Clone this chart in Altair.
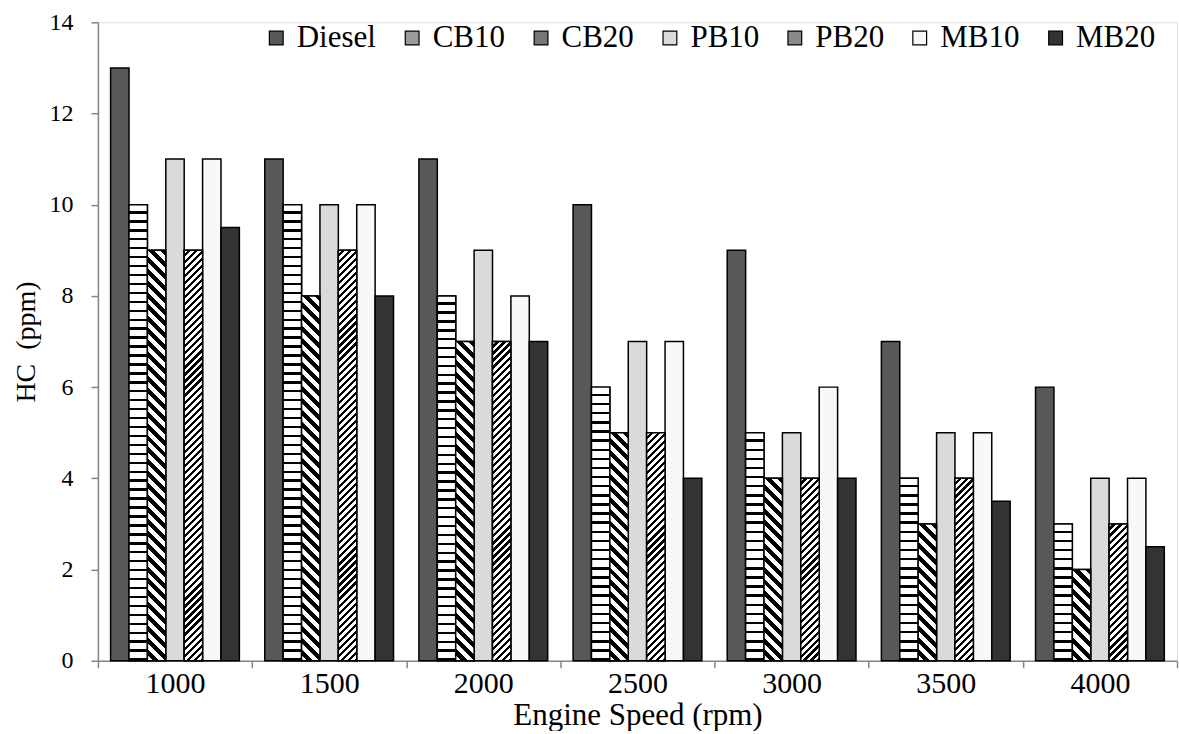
import math
import altair as alt
import pandas as pd

speeds = ["1000", "1500", "2000", "2500", "3000", "3500", "4000"]
fuels = ["Diesel", "CB10", "CB20", "PB10", "PB20", "MB10", "MB20"]
diesel = [13, 11, 11, 10, 9, 7, 6]
cb10 = [10, 10, 8, 6, 5, 4, 3]
cb20 = [9, 8, 7, 5, 4, 3, 2]
pb10 = [11, 10, 9, 7, 5, 5, 4]
pb20 = [9, 9, 7, 5, 4, 4, 3]
mb10 = [11, 10, 8, 7, 6, 5, 4]
mb20 = [9.5, 8, 7, 4, 4, 3.5, 2.5]
fills = ["#585858", "#9a9a9a", "#767676", "#dadada", "#8a8a8a", "#f8f8f8", "#333333"]

series = [diesel, cb10, cb20, pb10, pb20, mb10, mb20]
rows = []
for f, vals in zip(fuels, series):
    for s, v in zip(speeds, vals):
        rows.append({"speed": s, "fuel": f, "hc": v})
df = pd.DataFrame(rows)

FONT = "Liberation Serif"
W, H = 1080, 639
YMAX = 14
PAD_OUT = 0.69
STEP = W / len(speeds)
BW = STEP / (len(fuels) + 2 * PAD_OUT)
PX = H / YMAX


def stops_for(n, dark):
    st = []
    for k in range(n):
        a = k / n
        b = (k + 1 - dark) / n
        c = (k + 1) / n
        st += [{"offset": a, "color": "white"}, {"offset": b, "color": "white"},
               {"offset": b, "color": "black"}, {"offset": c, "color": "black"}]
    return st


def hstripes(h, period=9.0, dark=0.35):
    n = max(1, round(h / period))
    return {"gradient": "linear", "x1": 0, "y1": 0, "x2": 0, "y2": 1,
            "stops": stops_for(n, dark)}


def diag(h, w, vperiod, dark, direction):
    n = max(1, round((w + h) / vperiod))
    s = w * (w + h) / (w * w + h * h)
    if direction == "/":
        x1, y1, x2, y2 = 0, 0, s, s * h / w
    else:
        x1, y1, x2, y2 = 0, 1, s, 1 - s * h / w
    return {"gradient": "linear", "x1": x1, "y1": y1, "x2": x2, "y2": y2,
            "stops": stops_for(n, dark)}


base = alt.Chart(df).encode(
    x=alt.X("speed:N", sort=speeds,
            scale=alt.Scale(domain=speeds, paddingInner=0, paddingOuter=0),
            axis=alt.Axis(title="Engine Speed (rpm)", labelAngle=0, tickBand="extent",
                          domainColor="#868686", tickColor="#868686", tickSize=7,
                          domainWidth=1.5, tickWidth=1.5,
                          labelFont=FONT, labelFontSize=30, labelColor="black",
                          labelPadding=1, titleFont=FONT, titleFontSize=31,
                          titleFontWeight="normal", titleColor="black", titlePadding=2)),
    xOffset=alt.XOffset("fuel:N", sort=fuels,
                        scale=alt.Scale(domain=fuels, paddingInner=0, paddingOuter=PAD_OUT)),
    y=alt.Y("hc:Q", scale=alt.Scale(domain=[0, YMAX]),
            axis=alt.Axis(title="HC\u00a0 (ppm)", values=list(range(0, 15, 2)), grid=False,
                          domainColor="#868686", tickColor="#868686", tickSize=7,
                          domainWidth=1.5, tickWidth=1.5,
                          labelFont=FONT, labelFontSize=24, labelColor="black",
                          labelPadding=18, titleFont=FONT, titleFontSize=28,
                          titleFontWeight="normal", titleColor="black", titlePadding=8)),
)

bars = base.mark_bar(stroke="black", strokeWidth=1.5).encode(
    fill=alt.Fill("fuel:N", sort=fuels, scale=alt.Scale(domain=fuels, range=fills),
                  legend=alt.Legend(title=None, orient="none", legendX=163, legendY=0,
                                    direction="horizontal", columns=7, symbolType="square",
                                    symbolSize=190, symbolStrokeColor="black",
                                    symbolStrokeWidth=1.2, symbolOpacity=1,
                                    labelFont=FONT, labelFontSize=31, labelColor="black",
                                    labelOffset=5, columnPadding=20)),
)

layers = [bars]
textured = {"CB10": cb10, "CB20": cb20, "PB20": pb20}
for fuel, vals in textured.items():
    for sp, v in zip(speeds, vals):
        h = v * PX
        if fuel == "CB10":
            grad = hstripes(h, 9.0, 0.27)
        elif fuel == "CB20":
            grad = diag(h, BW, 12.0, 0.5, "\\")
        else:
            grad = diag(h, BW, 7.0, 0.45, "/")
        layers.append(
            base.transform_filter((alt.datum.fuel == fuel) & (alt.datum.speed == sp))
            .mark_bar(stroke="black", strokeWidth=1.5, fill=grad)
        )

chart = alt.layer(*layers).properties(
    width=W, height=H,
    padding={"top": 10, "left": 13, "right": 1, "bottom": 0},
).configure_view(stroke=None).configure(background="white")

chart.save("out.html", embed_options={"renderer": "svg", "actions": False})
